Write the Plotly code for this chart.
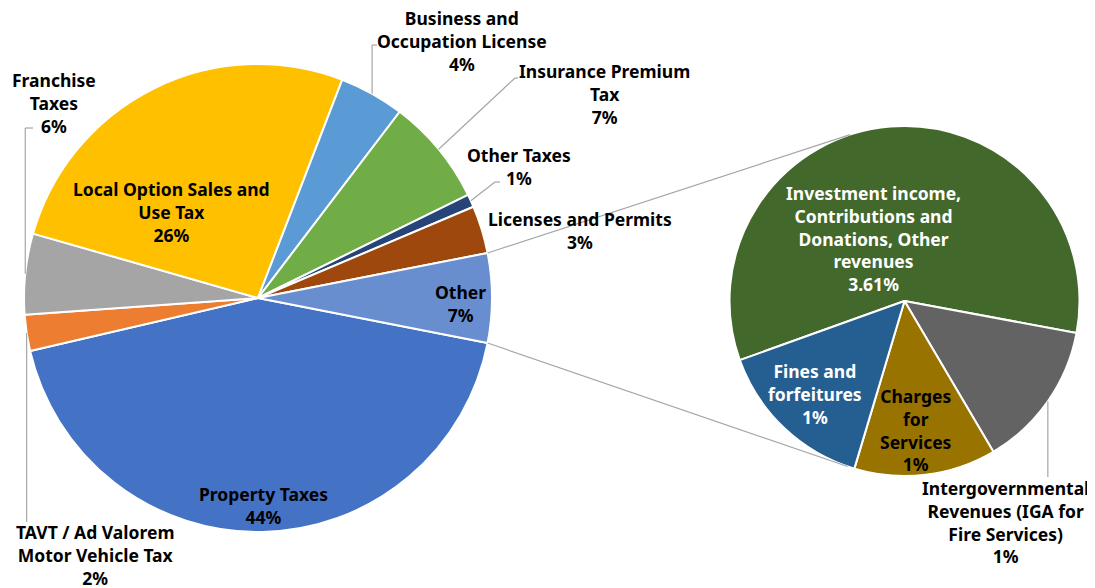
import math
import plotly.graph_objects as go

W, H = 1095, 588
OFF = 8                     # page body margin of the html page
FW, FH = W - OFF, H - OFF   # figure size

# ---------------- data ----------------
main_labels = ["Property Taxes", "TAVT / Ad Valorem Motor Vehicle Tax", "Franchise Taxes",
               "Local Option Sales and Use Tax", "Business and Occupation License",
               "Insurance Premium Tax", "Other Taxes", "Licenses and Permits", "Other"]
main_values_known = [43.4, 2.5, 5.6, 26.5, 4.5, 7.4, 0.9, 3.3]
main_pct_text = ["44%", "2%", "6%", "26%", "4%", "7%", "1%", "3%", "7%"]

sub_labels = ["Investment income, Contributions and Donations, Other revenues",
              "Intergovernmental Revenues (IGA for Fire Services)",
              "Charges for Services", "Fines and forfeitures"]
sub_values = [3.61, 0.84, 0.81, 0.92]
sub_pct_text = ["3.61%", "1%", "1%", "1%"]

main_values = main_values_known + [sum(sub_values)]

main_colors = ["#4472C4", "#ED7D31", "#A5A5A5", "#FFC000", "#5B9BD5",
               "#70AD47", "#264478", "#9E480E", "#698ED0"]
sub_colors = ["#43682B", "#636363", "#997300", "#255E91"]


def px(x, y):
    """page pixel -> paper coords"""
    return (x - OFF) / FW, 1 - (y - OFF) / FH


# ---------------- layout geometry ----------------
main_dom_x = [px(24, 0)[0], px(492, 0)[0]]
main_dom_y = [px(0, 532)[1], px(0, 64)[1]]
sub_dom_x = [px(729.5, 0)[0], px(1079.5, 0)[0]]
sub_dom_y = [px(0, 476)[1], px(0, 126)[1]]

total_main = sum(main_values)
main_rotation = 90 + 180 * main_values[-1] / total_main
sub_rotation = 250.25


def geom(dx, dy):
    cx = (dx[0] + dx[1]) / 2 * FW + OFF
    cy = (1 - (dy[0] + dy[1]) / 2) * FH + OFF
    r = min((dx[1] - dx[0]) * FW, (dy[1] - dy[0]) * FH) / 2
    return cx, cy, r


def slice_angles(values, rotation):
    tot = sum(values)
    a = rotation
    out = []
    for v in values:
        span = v / tot * 360
        out.append((a, a + span))
        a += span
    return out


def pt(c, ang):
    cx, cy, r = c
    t = math.radians(ang)
    return (cx + r * math.sin(t), cy - r * math.cos(t))


MC = geom(main_dom_x, main_dom_y)
SC = geom(sub_dom_x, sub_dom_y)
main_ang = slice_angles(main_values, main_rotation)
sub_ang = slice_angles(sub_values, sub_rotation)

fig = go.Figure()
fig.add_trace(go.Pie(labels=main_labels, values=main_values, sort=False,
                     direction="clockwise", rotation=main_rotation,
                     domain=dict(x=main_dom_x, y=main_dom_y),
                     marker=dict(colors=main_colors, line=dict(color="white", width=2)),
                     textinfo="none", hoverinfo="label+percent", showlegend=False))
fig.add_trace(go.Pie(labels=sub_labels, values=sub_values, sort=False,
                     direction="clockwise", rotation=sub_rotation,
                     domain=dict(x=sub_dom_x, y=sub_dom_y),
                     marker=dict(colors=sub_colors, line=dict(color="white", width=2)),
                     textinfo="none", hoverinfo="label+value", showlegend=False))

shapes = []
LINE = dict(color="#A6A6A6", width=1.2)


def poly(points):
    for (x0, y0), (x1, y1) in zip(points[:-1], points[1:]):
        a0 = px(x0, y0)
        a1 = px(x1, y1)
        shapes.append(dict(type="line", xref="paper", yref="paper",
                           x0=a0[0], y0=a0[1], x1=a1[0], y1=a1[1], line=LINE))


# connector lines: edges of "Other" slice to tangents of the secondary pie
o_start, o_end = main_ang[-1]
top_pt = pt(MC, o_start)
bot_pt = pt(MC, o_end)


def tangent(P, C, upper):
    cx, cy, r = C
    dxp, dyp = P[0] - cx, P[1] - cy
    d = math.hypot(dxp, dyp)
    phi = math.atan2(dyp, dxp)
    al = math.acos(r / d)
    cands = [(cx + r * math.cos(phi + s * al), cy + r * math.sin(phi + s * al)) for s in (1, -1)]
    cands.sort(key=lambda q: q[1])
    return cands[0] if upper else cands[1]


poly([top_pt, tangent(top_pt, SC, True)])
poly([bot_pt, tangent(bot_pt, SC, False)])


def mid(c, angs, i):
    a0, a1 = angs[i]
    return pt(c, (a0 + a1) / 2)


# leader lines
p = mid(MC, main_ang, 2)
poly([p, (p[0], 128), (33, 128)])
p = mid(MC, main_ang, 1)
poly([p, (p[0], 522)])
p = mid(MC, main_ang, 4)
poly([p, (p[0], 45), (377, 45)])
p = mid(MC, main_ang, 5)
poly([p, (515, 78), (518, 78)])
p = mid(MC, main_ang, 6)
poly([p, (495, 182), (500, 182)])
p = mid(SC, sub_ang, 1)
poly([p, (p[0], 477)])

FONT = "Noto Sans"
FS = 17.5
annotations = []


def label(lines, x, y, color="black"):
    xp, yp = px(x, y)
    annotations.append(dict(text="<br>".join(lines), x=xp, y=yp, xref="paper", yref="paper",
                            xanchor="center", yanchor="middle", showarrow=False,
                            align="center", borderpad=0,
                            font=dict(family=FONT, size=FS, color=color, weight="bold")))


label(["Property Taxes", main_pct_text[0]], 263, 505)
label(["TAVT / Ad Valorem", "Motor Vehicle Tax", main_pct_text[1]], 95, 555)
label(["Franchise", "Taxes", main_pct_text[2]], 54, 103)
label(["Local Option Sales and", "Use Tax", main_pct_text[3]], 171, 212)
label(["Business and", "Occupation License", main_pct_text[4]], 462, 41)
label(["Insurance Premium", "Tax", main_pct_text[5]], 605, 94)
label(["Other Taxes", main_pct_text[6]], 519, 166)
label(["Licenses and Permits", main_pct_text[7]], 580, 231)
label(["Other", main_pct_text[8]], 460, 303)

label(["Investment income,", "Contributions and", "Donations, Other", "revenues", sub_pct_text[0]],
      873, 239, "white")
label(["Intergovernmental", "Revenues (IGA for", "Fire Services)", sub_pct_text[1]], 1005, 522)
label(["Charges", "for", "Services", sub_pct_text[2]], 916, 430)
label(["Fines and", "forfeitures", sub_pct_text[3]], 815, 394, "white")

fig.update_layout(width=FW, height=FH, margin=dict(l=0, r=0, t=0, b=0),
                  paper_bgcolor="white", plot_bgcolor="white",
                  shapes=shapes, annotations=annotations, showlegend=False)

fig.write_html("out.html")
